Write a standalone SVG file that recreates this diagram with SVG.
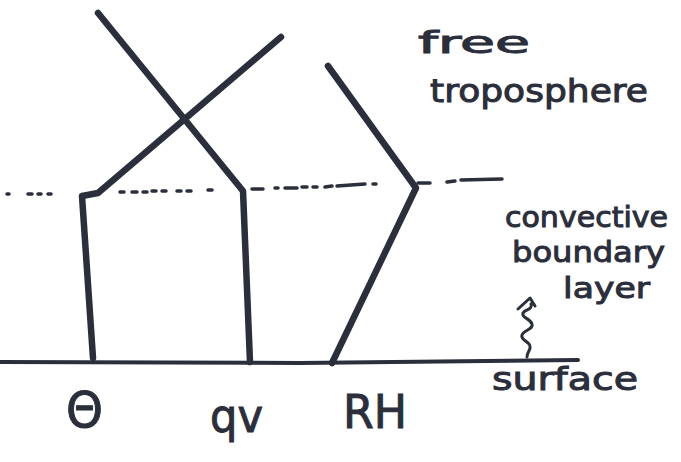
<svg xmlns="http://www.w3.org/2000/svg" width="681" height="462" viewBox="0 0 681 462">
<style>
.ln{fill:none;stroke:#2b2e3b;stroke-linecap:round;stroke-linejoin:round}
.prof{stroke-width:6.5}
.dash{stroke-width:3.5}
.t{font-family:"DejaVu Sans","Liberation Sans",sans-serif;fill:#2b2e3b;stroke:#2b2e3b;stroke-width:1}
</style>
<rect width="681" height="462" fill="#fff"/>
<g id="connectors">
<path id="surface-line" class="ln" stroke-width="4" d="M0 362 L300 363 L578 360"/>
<path id="bl-top" class="ln dash" d="M7 194 L9 194 M28 194 L32 194 M38 194 L41 194 M48 194 L51 194
M120 192 L124 192 M132 192 L137 192 M143 192 L147 192 M152 191 L156 191 M162 191 L166 191 M177 191 L181 191 M187 191 L191 191 M208 190 L212 190
M252 189 L263 189 M275 188 L278 188 M285 188 L297 188 M302 187 L307 187 M313 187 L317 187 M325 187 L332 186 M337 186 L365 184 M373 184 L376 184
M418 183 L430 183 M447 182 L455 181 M461 180 L502 179"/>
<path id="arrow" class="ln" stroke-width="3" d="M527 357 C527 352 531 350 530 346 C529 341 520 340 522 335 C524 330 534 329 532 324 C530 318 521 318 523 313 C525 309 533 310 531 304 M518 309 L530 298 L535 306"/>
</g>
<g id="theta-profile"><path class="ln prof" d="M93 358 L82 196 L98 193 L281 37"/></g>
<g id="qv-profile"><path class="ln prof" d="M250 362 L243 191 L98 13"/></g>
<g id="rh-profile"><path class="ln prof" d="M332 363 L416 188 L328 66"/></g>
<g id="label-free"><text class="t" x="418" y="53" font-size="30" textLength="112" lengthAdjust="spacingAndGlyphs">free</text></g>
<g id="label-troposphere"><text class="t" x="430" y="102" font-size="32" textLength="218" lengthAdjust="spacingAndGlyphs">troposphere</text></g>
<g id="label-cbl">
<text class="t" x="505" y="227" font-size="29" textLength="163" lengthAdjust="spacingAndGlyphs">convective</text>
<text class="t" x="512" y="262" font-size="29" textLength="153" lengthAdjust="spacingAndGlyphs">boundary</text>
<text class="t" x="563" y="298" font-size="29" textLength="87" lengthAdjust="spacingAndGlyphs">layer</text>
</g>
<g id="label-surface"><text class="t" x="492" y="390" font-size="32" textLength="146" lengthAdjust="spacingAndGlyphs">surface</text></g>
<g id="label-theta"><text class="t" x="66" y="427" font-size="50" textLength="37" lengthAdjust="spacingAndGlyphs">Θ</text></g>
<g id="label-qv"><text class="t" x="210" y="432" font-size="46" textLength="53" lengthAdjust="spacingAndGlyphs">qv</text></g>
<g id="label-rh"><text class="t" x="343" y="428" font-size="46" textLength="64" lengthAdjust="spacingAndGlyphs">RH</text></g>
</svg>
